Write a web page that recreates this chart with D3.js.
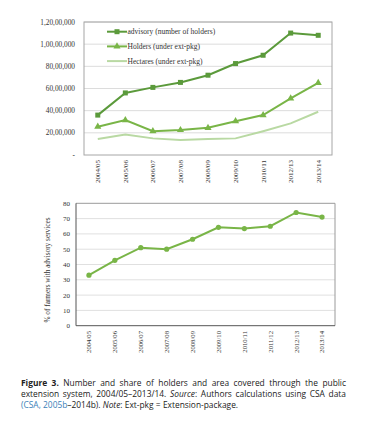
<!DOCTYPE html>
<html>
<head>
<meta charset="utf-8">
<script src="https://cdn.jsdelivr.net/npm/d3@7"></script>
<style>
  body { margin: 0; background: #fff; }
</style>
</head>
<body>
<svg id="chart" width="365" height="423"></svg>
<script>
// top chart data
var years1 = ["2004/05", "2005/06", "2006/07", "2007/08", "2008/09", "2009/10", "2010/11", "2012/13", "2013/14"];
var advisory = [3600000, 5600000, 6100000, 6550000, 7200000, 8250000, 9000000, 11000000, 10800000];
var holdersExt = [2550000, 3150000, 2150000, 2250000, 2450000, 3050000, 3600000, 5100000, 6500000];
var hectaresExt = [1450000, 1850000, 1500000, 1350000, 1450000, 1500000, 2150000, 2850000, 3900000];
var yTicks1 = [0, 2000000, 4000000, 6000000, 8000000, 10000000, 12000000];
var yLabels1 = ["-", "20,00,000", "40,00,000", "60,00,000", "80,00,000", "1,00,00,000", "1,20,00,000"];
var legendNames = ["advisory (number of holders)", "Holders (under ext-pkg)", "Hectares (under ext-pkg)"];

// bottom chart data
var years2 = ["2004/05", "2005/06", "2006/07", "2007/08", "2008/09", "2009/10", "2010/11", "2011/12", "2012/13", "2013/14"];
var sharePct = [33, 42.7, 51, 50, 56.5, 64.3, 63.5, 65, 74, 71];
var yTicks2 = [0, 10, 20, 30, 40, 50, 60, 70, 80];

// caption, one array per printed line; each word is a list of [text, style] pieces
var captionLines = [
  [[["Figure", "b"]], [["3.", "b"]], [["Number"]], [["and"]], [["share"]], [["of"]], [["holders"]], [["and"]], [["area"]], [["covered"]], [["through"]], [["the"]], [["public"]]],
  [[["extension"]], [["system,"]], [["2004/05–2013/14."]], [["Source", "i"], [":"]], [["Authors"]], [["calculations"]], [["using"]], [["CSA"]], [["data"]]],
  [[["(CSA,", "blue"]], [["2005b", "blue"], ["–2014b)."]], [["Note", "i"], [":"]], [["Ext-pkg"]], [["="]], [["Extension-package."]]]
];

var dark = "#5b9a3b", mid = "#79b547", light = "#b9d9a3";
var serif = "'Liberation Serif', 'DejaVu Serif', serif";
var sans = "'Open Sans', 'Noto Sans', sans-serif";

var svg = d3.select("#chart");

// ---------- top chart ----------
var g1 = svg.append("g");
var x1 = d3.scalePoint().domain(years1).range([84, 332]).padding(0.5);
var y1 = d3.scaleLinear().domain([0, 12000000]).range([155, 22]);

g1.selectAll("line.grid").data(yTicks1.slice(1)).enter().append("line")
    .attr("x1", 84).attr("x2", 332)
    .attr("y1", function (d) { return y1(d); }).attr("y2", function (d) { return y1(d); })
    .attr("stroke", "#dcdcdc").attr("stroke-width", 1);

g1.append("rect").attr("x", 84).attr("y", 22).attr("width", 248).attr("height", 133)
    .attr("fill", "none").attr("stroke", "#a6a6a6").attr("stroke-width", 1);

g1.selectAll("text.ytick").data(yTicks1).enter().append("text")
    .attr("x", 75).attr("y", function (d) { return y1(d); }).attr("dy", "0.35em")
    .attr("text-anchor", "end").attr("font-family", serif).attr("font-size", 7.3)
    .attr("fill", "#333")
    .text(function (d, i) { return yLabels1[i]; });

g1.selectAll("text.xtick").data(years1).enter().append("text")
    .attr("transform", function (d) { return "translate(" + x1(d) + ",160) rotate(-90)"; })
    .attr("dy", "0.35em").attr("text-anchor", "end")
    .attr("font-family", serif).attr("font-size", 7).attr("fill", "#333")
    .text(function (d) { return d; });

var line1 = d3.line().x(function (d, i) { return x1(years1[i]); }).y(function (d) { return y1(d); });

g1.append("path").datum(hectaresExt).attr("d", line1)
    .attr("fill", "none").attr("stroke", light).attr("stroke-width", 2);
g1.append("path").datum(holdersExt).attr("d", line1)
    .attr("fill", "none").attr("stroke", mid).attr("stroke-width", 2);
g1.append("path").datum(advisory).attr("d", line1)
    .attr("fill", "none").attr("stroke", dark).attr("stroke-width", 2);

var tri = d3.symbol().type(d3.symbolTriangle).size(22);
g1.selectAll("path.tri").data(holdersExt).enter().append("path")
    .attr("d", tri)
    .attr("transform", function (d, i) { return "translate(" + x1(years1[i]) + "," + y1(d) + ")"; })
    .attr("fill", mid);
g1.selectAll("rect.sq").data(advisory).enter().append("rect")
    .attr("x", function (d, i) { return x1(years1[i]) - 2.5; })
    .attr("y", function (d) { return y1(d) - 2.5; })
    .attr("width", 5).attr("height", 5).attr("fill", dark);

// legend
var legColors = [dark, mid, light];
var leg = g1.selectAll("g.leg").data(legendNames).enter().append("g")
    .attr("transform", function (d, i) { return "translate(107," + (31.7 + i * 14.7) + ")"; });
leg.append("line").attr("x1", 0).attr("x2", 20).attr("y1", 0).attr("y2", 0)
    .attr("stroke", function (d, i) { return legColors[i]; }).attr("stroke-width", 2);
leg.filter(function (d, i) { return i === 0; }).append("rect")
    .attr("x", 7.5).attr("y", -2.5).attr("width", 5).attr("height", 5).attr("fill", dark);
leg.filter(function (d, i) { return i === 1; }).append("path")
    .attr("d", tri).attr("transform", "translate(10,0)").attr("fill", mid);
leg.append("text").attr("x", 20.5).attr("dy", "0.35em")
    .attr("font-family", serif).attr("font-size", 7.5).attr("fill", "#333")
    .text(function (d) { return d; });

// ---------- bottom chart ----------
var g2 = svg.append("g");
var x2 = d3.scalePoint().domain(years2).range([76, 335]).padding(0.5);
var y2 = d3.scaleLinear().domain([0, 80]).range([325.7, 203.3]);

g2.selectAll("line.grid").data(yTicks2.slice(1, -1)).enter().append("line")
    .attr("x1", 76).attr("x2", 335)
    .attr("y1", function (d) { return y2(d); }).attr("y2", function (d) { return y2(d); })
    .attr("stroke", "#e0e0e0").attr("stroke-width", 1);

g2.append("path").attr("d", "M76," + y2(80) + "H335V" + y2(0))
    .attr("fill", "none").attr("stroke", "#9a9a9a").attr("stroke-width", 1);
g2.append("path").attr("d", "M76," + y2(80) + "V" + y2(0) + "H335")
    .attr("fill", "none").attr("stroke", "#555").attr("stroke-width", 1);

g2.selectAll("text.ytick").data(yTicks2).enter().append("text")
    .attr("x", 70).attr("y", function (d) { return y2(d); }).attr("dy", "0.35em")
    .attr("text-anchor", "end").attr("font-family", serif).attr("font-size", 7)
    .attr("fill", "#333")
    .text(function (d) { return d; });

g2.selectAll("text.xtick").data(years2).enter().append("text")
    .attr("transform", function (d) { return "translate(" + x2(d) + ",331) rotate(-90)"; })
    .attr("dy", "0.35em").attr("text-anchor", "end")
    .attr("font-family", serif).attr("font-size", 6.7).attr("fill", "#333")
    .text(function (d) { return d; });

g2.append("text")
    .attr("transform", "translate(47,270) rotate(-90)")
    .attr("dy", "0.35em").attr("text-anchor", "middle")
    .attr("font-family", serif).attr("font-size", 7.3).attr("fill", "#333")
    .text("% of farmers with advisory services");

var line2 = d3.line().x(function (d, i) { return x2(years2[i]); }).y(function (d) { return y2(d); });
g2.append("path").datum(sharePct).attr("d", line2)
    .attr("fill", "none").attr("stroke", mid).attr("stroke-width", 2);
g2.selectAll("circle").data(sharePct).enter().append("circle")
    .attr("cx", function (d, i) { return x2(years2[i]); })
    .attr("cy", function (d) { return y2(d); })
    .attr("r", 2.6).attr("fill", mid);

// ---------- caption (justified by hand) ----------
var capLeft = 21, capRight = 346, capSize = 8.4;
var cap = svg.append("g").attr("font-family", sans).attr("font-size", capSize).attr("fill", "#222");
captionLines.forEach(function (words, li) {
    var yBase = 386 + li * 10.8;
    var nodes = words.map(function (pieces) {
        var t = cap.append("text").attr("y", yBase);
        pieces.forEach(function (p) {
            var ts = t.append("tspan").text(p[0]);
            if (p[1] === "b") ts.attr("font-weight", "bold");
            if (p[1] === "i") ts.attr("font-style", "italic");
            if (p[1] === "blue") ts.attr("fill", "#3a7fb8");
        });
        return t;
    });
    var widths = nodes.map(function (t) { return t.node().getComputedTextLength(); });
    var total = d3.sum(widths);
    var last = li === captionLines.length - 1;
    var gap = last ? capSize * 0.27 : (capRight - capLeft - total) / (nodes.length - 1);
    var x = capLeft;
    nodes.forEach(function (t, i) {
        t.attr("x", x);
        x += widths[i] + gap;
    });
});
</script>
</body>
</html>
